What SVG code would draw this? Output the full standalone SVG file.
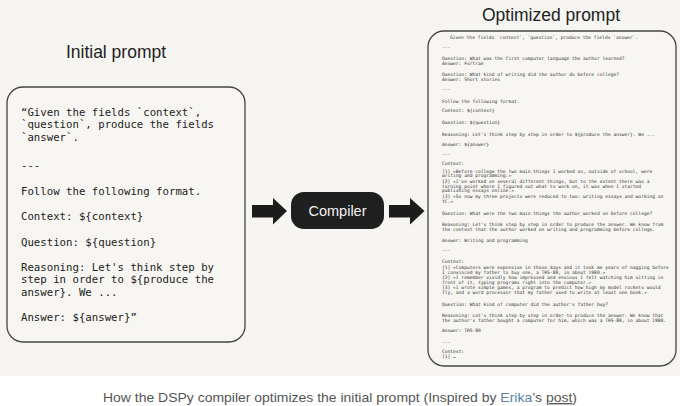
<svg xmlns="http://www.w3.org/2000/svg" width="680" height="406" viewBox="0 0 680 406">
<style>
.title{font-family:"Liberation Sans",Arial,sans-serif;font-size:17.5px;fill:#222}
.box{fill:#f7f6f2;stroke:#444;stroke-width:1.3}
.mono{font-family:"DejaVu Sans Mono","Liberation Mono",monospace;font-size:10.7px;fill:#222}
.tiny{font-family:"DejaVu Sans Mono","Liberation Mono",monospace;font-size:4.6px;fill:#333}
.arrow{fill:#1c1c1c}
.cap{font-family:"Liberation Sans",Arial,sans-serif;font-size:13.5px;fill:#555}
</style>
<rect x="0" y="0" width="680" height="376" fill="#f6f5f1"/>
<rect x="0" y="376" width="680" height="30" fill="#ffffff"/>

<g id="initial">
<text class="title" x="116" y="58" text-anchor="middle">Initial prompt</text>
<rect class="box" x="7" y="87" width="238" height="255" rx="16"/>
<text class="mono" x="21" y="116">“Given the fields `context`,</text>
<text class="mono" x="21" y="128.3">`question`, produce the fields</text>
<text class="mono" x="21" y="140.5">`answer`.</text>
<text class="mono" x="21" y="169">---</text>
<text class="mono" x="21" y="195">Follow the following format.</text>
<text class="mono" x="21" y="220">Context: ${context}</text>
<text class="mono" x="21" y="245.5">Question: ${question}</text>
<text class="mono" x="21" y="270.5">Reasoning: Let's think step by</text>
<text class="mono" x="21" y="283">step in order to ${produce the</text>
<text class="mono" x="21" y="295.5">answer}. We ...</text>
<text class="mono" x="21" y="320.5">Answer: ${answer}”</text>
</g>

<g id="compiler">
<rect x="291" y="192" width="93" height="37" rx="13" fill="#1f1f1f"/>
<text x="337.5" y="216" text-anchor="middle" font-family="Liberation Sans,Arial,sans-serif" font-size="14.5" fill="#f2f2f2">Compiler</text>
</g>

<g id="optimized">
<text class="title" x="551" y="21" text-anchor="middle">Optimized prompt</text>
<rect class="box" x="428" y="31" width="248" height="335" rx="16"/>
<text class="tiny" x="450" y="39">Given the fields `context`, `question`, produce the fields `answer`.</text>
<text class="tiny" x="442" y="48.6">---</text>
<text class="tiny" x="442" y="60">Question: What was the first computer language the author learned?</text>
<text class="tiny" x="442" y="64.8">Answer: Fortran</text>
<text class="tiny" x="442" y="76">Question: What kind of writing did the author do before college?</text>
<text class="tiny" x="442" y="80.9">Answer: Short stories</text>
<text class="tiny" x="442" y="90.9">---</text>
<text class="tiny" x="442" y="102.6">Follow the following format.</text>
<text class="tiny" x="442" y="112.2">Context: ${context}</text>
<text class="tiny" x="442" y="124.3">Question: ${question}</text>
<text class="tiny" x="442" y="135.6">Reasoning: Let's think step by step in order to ${produce the answer}. We ...</text>
<text class="tiny" x="442" y="146">Answer: ${answer}</text>
<text class="tiny" x="442" y="156">---</text>
<text class="tiny" x="442" y="165">Context:</text>
<text class="tiny" x="442" y="172.6">[1] «Before college the two main things I worked on, outside of school, were</text>
<text class="tiny" x="442" y="177.4">writing and programming.»</text>
<text class="tiny" x="442" y="182.6">[2] «I've worked on several different things, but to the extent there was a</text>
<text class="tiny" x="442" y="187.6">turning point where I figured out what to work on, it was when I started</text>
<text class="tiny" x="442" y="192.3">publishing essays online.»</text>
<text class="tiny" x="442" y="197.6">[3] «So now my three projects were reduced to two: writing essays and working on</text>
<text class="tiny" x="442" y="203.3">YC.»</text>
<text class="tiny" x="442" y="215">Question: What were the two main things the author worked on before college?</text>
<text class="tiny" x="442" y="226">Reasoning: Let's think step by step in order to produce the answer. We know from</text>
<text class="tiny" x="442" y="231">the context that the author worked on writing and programming before college.</text>
<text class="tiny" x="442" y="241.6">Answer: Writing and programming</text>
<text class="tiny" x="442" y="252">---</text>
<text class="tiny" x="442" y="263.3">Context:</text>
<text class="tiny" x="442" y="269">[1] «Computers were expensive in those days and it took me years of nagging before</text>
<text class="tiny" x="442" y="274">I convinced my father to buy one, a TRS-80, in about 1980.»</text>
<text class="tiny" x="442" y="279.3">[2] «I remember vividly how impressed and envious I felt watching him sitting in</text>
<text class="tiny" x="442" y="284.3">front of it, typing programs right into the computer.»</text>
<text class="tiny" x="442" y="289">[3] «I wrote simple games, a program to predict how high my model rockets would</text>
<text class="tiny" x="442" y="294">fly, and a word processor that my father used to write at least one book.»</text>
<text class="tiny" x="442" y="305.6">Question: What kind of computer did the author's father buy?</text>
<text class="tiny" x="442" y="316.6">Reasoning: Let's think step by step in order to produce the answer. We know that</text>
<text class="tiny" x="442" y="321.6">the author's father bought a computer for him, which was a TRS-80, in about 1980.</text>
<text class="tiny" x="442" y="332.3">Answer: TRS-80</text>
<text class="tiny" x="442" y="344.3">---</text>
<text class="tiny" x="442" y="353.3">Context:</text>
<text class="tiny" x="442" y="358">[1] …</text>
</g>

<g id="connectors">
<polygon class="arrow" points="252,205 273,205 273,198 287,211 273,224.5 273,217.5 252,217.5"/>
<polygon class="arrow" points="389,205 410,205 410,198 424.5,211 410,224.5 410,217.5 389,217.5"/>
</g>

<g id="caption">
<text class="cap" x="103" y="402" textLength="474" lengthAdjust="spacingAndGlyphs">How the DSPy compiler optimizes the initial prompt (Inspired by <tspan fill="#5a7fa8">Erika</tspan>’s <tspan text-decoration="underline">post</tspan>)</text>
</g>
</svg>
